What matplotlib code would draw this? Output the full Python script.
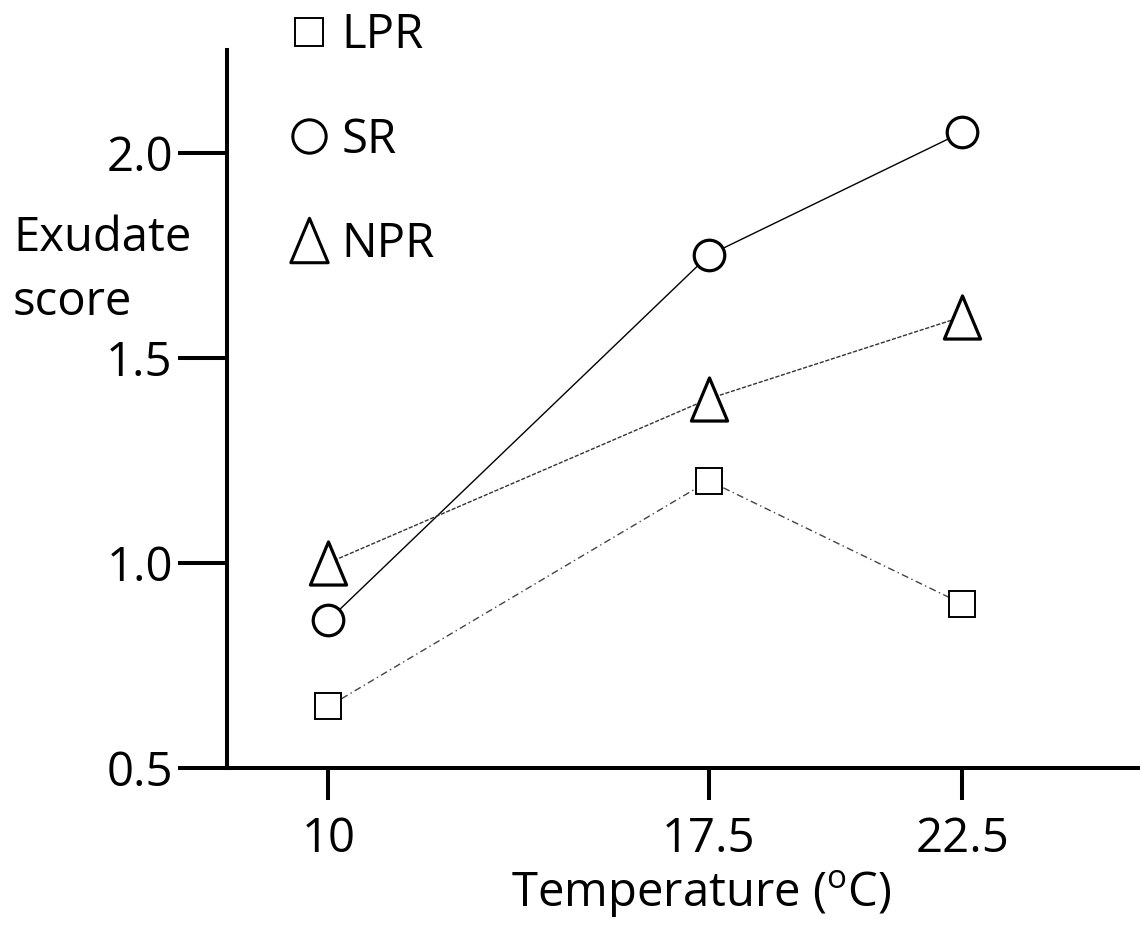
import matplotlib
matplotlib.use("Agg")
import matplotlib.pyplot as plt
from matplotlib.lines import Line2D
from matplotlib.path import Path

plt.rcParams['font.family'] = ['Open Sans', 'DejaVu Sans']
plt.rcParams['mathtext.fontset'] = 'custom'
plt.rcParams['mathtext.rm'] = 'Open Sans'

# Data: exudate score per temperature (deg C)
temps = [10, 17.5, 22.5]
lpr = [0.65, 1.2, 0.9]
sr = [0.86, 1.75, 2.05]
npr = [1.0, 1.4, 1.6]
xticks = [10, 17.5, 22.5]
xticklabels = ['10', '17.5', '22.5']
yticks = [0.5, 1.0, 1.5, 2.0]
yticklabels = ['0.5', '1.0', '1.5', '2.0']

FS = 34

# taller than wide triangle
tri = Path([(0, 1), (-0.84, -1), (0.84, -1), (0, 1)],
           [Path.MOVETO, Path.LINETO, Path.LINETO, Path.CLOSEPOLY])

fig = plt.figure(figsize=(11.4, 9.27), dpi=100)
ax = fig.add_axes([227 / 1140, 1 - 768 / 927, 1 - 227 / 1140, (768 - 50) / 927])

ax.plot(temps, sr, color='black', lw=1.0, zorder=2)
ax.plot(temps, npr, color='#333333', lw=1.0, dashes=(3, 1.2), zorder=2)
ax.plot(temps, lpr, color='#444444', lw=1.0, dashes=(5, 2.5, 1, 2.5), zorder=2)

ax.plot(temps, sr, ls='none', marker='o', ms=22, mfc='white', mec='black', mew=2.3, zorder=3)
ax.plot(temps, npr, ls='none', marker=tri, ms=31, mfc='white', mec='black', mew=2.3, zorder=3)
ax.plot(temps, lpr, ls='none', marker='s', ms=18.5, mfc='white', mec='black', mew=1.4, zorder=3)

ax.set_xlim(8, 26)
ax.set_ylim(0.5, 2.25)
ax.set_xticks(xticks)
ax.set_xticklabels(xticklabels)
ax.set_yticks(yticks)
ax.set_yticklabels(yticklabels)

for s in ['top', 'right']:
    ax.spines[s].set_visible(False)
for s in ['left', 'bottom']:
    ax.spines[s].set_linewidth(2.9)
ax.tick_params(axis='y', length=35, width=2.9, pad=4, labelsize=FS)
ax.tick_params(axis='x', length=23, width=2.9, pad=11, labelsize=FS)
ax.set_facecolor('none')

ax.set_xlabel(r'Temperature ($\mathregular{^o}$C)', fontsize=FS, labelpad=4, x=0.52)
fig.text(13 / 1140, 1 - 270 / 927, 'Exudate\nscore', fontsize=FS, ha='left', va='center',
         linespacing=1.45)

handles = [
    Line2D([], [], ls='none', marker='s', ms=20, mfc='white', mec='black', mew=1.4),
    Line2D([], [], ls='none', marker='o', ms=24, mfc='white', mec='black', mew=2.2),
    Line2D([], [], ls='none', marker=tri, ms=32, mfc='white', mec='black', mew=2.2),
]
ax.legend(handles, ['LPR', 'SR', 'NPR'], loc='upper left',
          bbox_to_anchor=(292 / 1140, 1 - 12 / 927), bbox_transform=fig.transFigure,
          frameon=False, fontsize=FS, handlelength=0.7, handletextpad=0.35,
          labelspacing=1.2, borderpad=0, borderaxespad=0, numpoints=1)

fig.savefig('out.png', dpi=100)
